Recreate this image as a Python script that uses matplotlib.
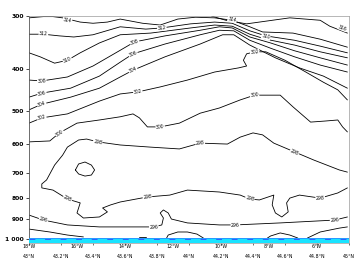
import numpy as np
import matplotlib
matplotlib.use("Agg")
import matplotlib.pyplot as plt

# ---------------- data (latitude, pressure hPa) ----------------
lat_316 = [44.14, 44.23, 44.36, 44.44, 44.63, 44.82, 44.88, 44.99]
p_316 = [300, 307, 313, 310, 303, 307, 317, 329]

lat_314 = [43.00, 43.09, 43.15, 43.21, 43.32, 43.40, 43.49, 43.57, 43.71, 43.82,
           43.93, 44.04, 44.16, 44.27, 44.38, 44.46, 44.65, 44.82, 44.99]
p_314 = [303, 301, 301, 303, 310, 312, 310, 305, 312, 315,
         305, 302, 303, 307, 318, 327, 329, 340, 355]

lat_312 = [43.00, 43.09, 43.19, 43.28, 43.40, 43.57, 43.73, 43.83, 44.01, 44.16,
           44.27, 44.38, 44.48, 44.66, 44.82, 44.99]
p_312 = [331, 331, 334, 336, 332, 318, 322, 320, 313, 310,
         312, 325, 334, 342, 353, 366]

lat_310 = [43.00, 43.07, 43.16, 43.24, 43.32, 43.44, 43.57, 43.76, 44.01, 44.16,
           44.27, 44.38, 44.48, 44.66, 44.82, 44.99]
p_310 = [366, 374, 387, 381, 366, 347, 332, 329, 320, 315,
         317, 331, 340, 351, 364, 376]

lat_308 = [43.00, 43.08, 43.24, 43.40, 43.57, 43.66, 43.85, 44.07, 44.19, 44.27,
           44.38, 44.51, 44.66, 44.82, 44.99]
p_308 = [424, 426, 417, 393, 361, 345, 334, 324, 318, 320,
         336, 347, 362, 376, 391]

lat_306 = [43.00, 43.08, 43.26, 43.44, 43.57, 43.65, 43.85, 44.07, 44.19, 44.28,
           44.38, 44.51, 44.66, 44.82, 44.99]
p_306 = [465, 455, 443, 415, 385, 368, 349, 332, 324, 325,
         342, 357, 374, 391, 406]

lat_304 = [43.00, 43.08, 43.26, 43.44, 43.57, 43.65, 43.85, 44.07, 44.21, 44.28,
           44.38, 44.54, 44.69, 44.84, 44.99]
p_304 = [498, 483, 465, 443, 417, 402, 374, 349, 332, 332,
         351, 376, 397, 415, 443]

lat_302 = [43.00, 43.08, 43.24, 43.44, 43.57, 43.68, 43.82, 43.99, 44.16, 44.31,
           44.36, 44.34, 44.36, 44.41, 44.48, 44.60, 44.73, 44.84, 44.93, 44.99]
p_302 = [535, 520, 509, 475, 457, 452, 440, 424, 406, 397,
         393, 381, 368, 364, 364, 381, 406, 429, 447, 472]

lat_300 = [43.00, 43.13, 43.19, 43.30, 43.44, 43.57, 43.65, 43.69, 43.74, 43.82,
           43.94, 44.07, 44.19, 44.32, 44.41, 44.57, 44.65, 44.76, 44.85, 44.93,
           44.96, 44.99]
p_300 = [592, 589, 564, 535, 526, 517, 509, 520, 546, 546,
         535, 507, 493, 472, 460, 460, 490, 532, 529, 526,
         546, 561]

lat_298 = [44.99, 44.94, 44.78, 44.66, 44.53, 44.46, 44.40, 44.32, 44.24, 44.07,
           43.94, 43.76, 43.57, 43.43, 43.36, 43.31, 43.24, 43.21, 43.16, 43.11,
           43.08, 43.08, 43.15, 43.24, 43.32, 43.31, 43.30, 43.34, 43.44, 43.49,
           43.46, 43.51, 43.57, 43.74, 43.88, 43.99, 44.19, 44.32, 44.38, 44.44,
           44.53, 44.52, 44.54, 44.58, 44.62, 44.61, 44.63, 44.69, 44.82, 44.93,
           44.99]
p_298 = [697, 689, 653, 625, 596, 570, 564, 577, 599, 596,
         615, 609, 602, 592, 583, 586, 609, 636, 671, 727,
         743, 759, 768, 806, 823, 846, 869, 893, 888, 864,
         846, 832, 819, 797, 789, 768, 776, 789, 806, 810,
         789, 832, 869, 888, 864, 823, 802, 789, 802, 780,
         759]

lat_loop = [43.29, 43.31, 43.35, 43.39, 43.41, 43.39, 43.35, 43.31, 43.29]
p_loop = [689, 667, 660, 671, 689, 708, 712, 704, 689]

lat_296 = [43.00, 43.09, 43.24, 43.44, 43.57, 43.78, 43.83, 43.84, 43.82, 43.84,
           43.87, 43.89, 43.99, 44.19, 44.29, 44.57, 44.91, 44.99]
p_296 = [879, 903, 927, 937, 937, 937, 927, 893, 869, 855,
         869, 898, 917, 927, 927, 917, 903, 888]

lat_294a = [43.00, 43.13, 43.24, 43.34]
p_294a = [948, 963, 979, 989]
lat_294b = [43.69, 43.73]
p_294b = [989, 989]
lat_294c = [43.86, 43.87, 43.93, 43.99, 44.05, 44.09]
p_294c = [995, 979, 963, 963, 974, 995]
lat_294d = [44.49, 44.51, 44.57, 44.63, 44.68]
p_294d = [995, 984, 968, 979, 995]
lat_294e = [44.74, 44.82, 44.94, 44.99]
p_294e = [995, 963, 943, 937]

# contour labels
label_vals = [314, 314, 316, 312, 312, 310, 310, 308, 308, 306, 306, 304, 304,
              302, 302, 302, 300, 300, 300, 298, 298, 298, 298, 298, 298, 298,
              296, 296, 296, 296]
label_lat = [43.24, 44.27, 44.96, 43.09, 43.83, 43.24, 44.48, 43.08, 43.66, 43.08, 43.65,
             43.08, 43.65, 43.08, 43.68, 44.41, 43.19, 43.82, 44.41, 43.43, 44.07,
             44.66, 43.24, 43.74, 44.38, 44.82, 43.09, 43.78, 44.29, 44.91]
label_p = [307, 306, 320, 331, 320, 381, 336, 426, 345, 455, 368,
           483, 402, 520, 452, 364, 564, 546, 460, 592, 596,
           625, 806, 797, 806, 802, 903, 937, 927, 903]

# surface band
sfc_lat = [43.0, 45.0]
sfc_top = [993, 993]
sfc_line = [1000, 1000]

# axes ticks
lat_ticks = [43.0, 43.2, 43.4, 43.6, 43.8, 44.0, 44.2, 44.4, 44.6, 44.8, 45.0]
lat_labels = ["43°N", "43.2°N", "43.4°N", "43.6°N", "43.8°N", "44°N",
              "44.2°N", "44.4°N", "44.6°N", "44.8°N", "45°N"]
lon_ticks = [-18, -16, -14, -12, -10, -8, -6]
lon_labels = ["18°W", "16°W", "14°W", "12°W", "10°W", "8°W", "6°W"]
p_ticks = [300, 400, 500, 600, 700, 800, 900, 1000]
p_labels = ["300", "400", "500", "600", "700", "800", "900", "1 000"]

P_BOTTOM = 1022
P_TOP = 300

# ---------------- figure ----------------
fig = plt.figure(figsize=(3.6, 2.62), dpi=100)
ax = fig.add_axes([29 / 360, 19 / 262, 320 / 360, 227 / 262])
ax.set_yscale("log")
ax.set_xlim(43.0, 45.0)
ax.set_ylim(P_BOTTOM, P_TOP)

lines = [
    (316, lat_316, p_316), (314, lat_314, p_314), (312, lat_312, p_312),
    (310, lat_310, p_310), (308, lat_308, p_308), (306, lat_306, p_306),
    (304, lat_304, p_304), (302, lat_302, p_302), (300, lat_300, p_300),
    (298, lat_298, p_298), (297, lat_loop, p_loop), (296, lat_296, p_296),
    (294, lat_294a, p_294a), (294, lat_294b, p_294b), (294, lat_294c, p_294c),
    (294, lat_294d, p_294d), (294, lat_294e, p_294e),
]
for lev, la, pp in lines:
    ax.plot(la, pp, color="black", lw=0.6, zorder=2, solid_capstyle="round")

# surface band
ax.fill_between(sfc_lat, sfc_top, P_BOTTOM, color="#19e3ff", lw=0, zorder=4)
ax.plot(sfc_lat, sfc_top, color="#2a8cff", lw=0.6, zorder=5)
ax.plot(sfc_lat, sfc_line, color="#2f5bff", lw=0.7, ls=(0, (6, 10)), zorder=5)

# contour labels oriented along the lines
fig.canvas.draw()
for val, la, pp in zip(label_vals, label_lat, label_p):
    best = None
    for lev, xs, ys in lines:
        if lev != val:
            continue
        pts = ax.transData.transform(np.column_stack([xs, ys]))
        tgt = ax.transData.transform((la, pp))
        d = np.hypot(pts[:, 0] - tgt[0], pts[:, 1] - tgt[1])
        i = int(np.argmin(d))
        if best is None or d[i] < best[0]:
            best = (d[i], pts, i)
    ang = 0.0
    if best is not None:
        _, pts, i = best
        i0 = max(i - 1, 0)
        i1 = min(i + 1, len(pts) - 1)
        dx = pts[i1, 0] - pts[i0, 0]
        dy = pts[i1, 1] - pts[i0, 1]
        ang = np.degrees(np.arctan2(dy, dx))
        if ang > 90:
            ang -= 180
        if ang < -90:
            ang += 180
    ax.text(la, pp, str(val), fontsize=3.3, ha="center", va="center",
            rotation=ang, rotation_mode="anchor", color="black", zorder=3,
            bbox=dict(facecolor="white", edgecolor="none", pad=0.25))

# y axis
ax.set_yticks(p_ticks)
ax.set_yticklabels(p_labels)
ax.yaxis.set_minor_locator(matplotlib.ticker.NullLocator())
ax.tick_params(axis="y", labelsize=4.3, length=2, width=0.5, pad=1.5, colors="black")
for lab in ax.get_yticklabels():
    lab.set_fontweight("bold")

# x axis: latitude (lower row) and longitude (upper row)
ax.set_xticks(lat_ticks)
ax.set_xticklabels(lat_labels)
ax.tick_params(axis="x", labelsize=3.4, length=1.5, width=0.4, pad=6.5)

sec = ax.secondary_xaxis("bottom",
                         functions=(lambda la: (la - 43.0) / 0.15 - 18.0,
                                    lambda lo: 43.0 + (lo + 18.0) * 0.15))
sec.set_xticks(lon_ticks)
sec.set_xticklabels(lon_labels)
sec.tick_params(axis="x", labelsize=3.4, length=0, pad=1.0)
sec.spines["bottom"].set_visible(False)

for s in ["top", "right", "bottom"]:
    ax.spines[s].set_color("#9a9a9a")
    ax.spines[s].set_linewidth(0.5)
ax.spines["left"].set_color("#555555")
ax.spines["left"].set_linewidth(0.6)

fig.savefig("out.png", dpi=100)
